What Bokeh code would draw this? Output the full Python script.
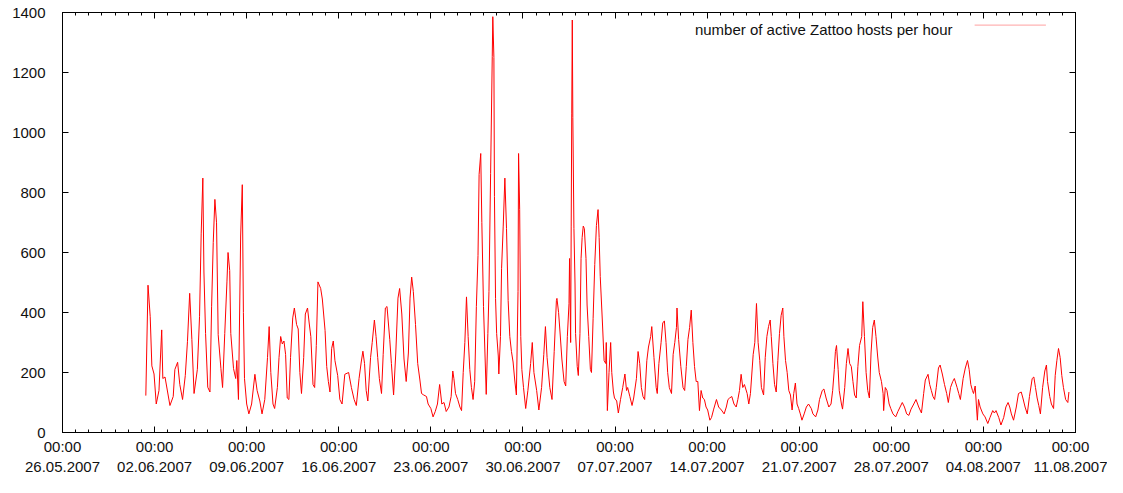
import pandas as pd
from bokeh.plotting import figure
from bokeh.models import (FixedTicker, DatetimeTickFormatter, LinearAxis, DatetimeAxis,
                          Range1d, Label, CustomJSTickFormatter, PolyAnnotation,
                          ColumnDataSource)
from bokeh.embed import file_html
from bokeh.resources import INLINE

START = "2007-05-26 00:00"
END = "2007-08-11 00:00"
series_label = "number of active Zattoo hosts per hour"
y_ticks = [0, 200, 400, 600, 800, 1000, 1200, 1400]

# hours since 26.05.2007 00:00
hours = [
    152, 156, 160, 163, 167, 171, 176, 181, 183, 187, 196, 202, 205, 210, 214, 219, 224, 228, 232, 236,
    240, 246, 250, 253, 256, 258, 261, 265, 269, 272, 275, 278, 281, 284, 289, 292, 296, 300, 302, 305,
    307, 312, 316, 318, 321, 325, 328, 330, 332,
    336, 340, 345, 351, 355, 360, 364, 369, 374, 377, 380, 384, 387, 392, 395, 398, 401, 404, 407, 410,
    413, 416, 420, 423, 427, 430, 433, 436, 440, 443, 447, 450, 453, 457, 460, 463, 466, 471, 474, 479,
    482, 485, 488, 491, 494, 497, 502, 506, 510, 515, 522,
    527, 532, 536, 541, 545, 548, 551, 554, 557, 562, 565, 569, 572, 575, 578, 582, 585, 589, 592, 597,
    600, 604, 608, 612, 615, 619, 623, 627, 631, 634, 637, 640, 644, 648, 652, 655, 659, 664, 667, 672,
    676, 680, 684, 688, 692, 696, 700, 705, 709, 712,
    714, 717, 721, 725, 728, 731, 734, 737, 740, 743, 746, 749, 752, 755, 758, 760, 763, 765, 768, 771,
    773, 776, 778, 781, 784, 785, 787, 788, 790, 792, 795, 796, 799, 801, 804, 807, 810, 813, 816, 819,
    822, 825, 828, 831, 832, 834, 836, 838, 841, 845, 849, 854, 857, 860, 865, 869, 874, 878, 881, 884,
    889, 893, 897, 901,
    902, 905, 908, 911, 915, 918, 921, 924, 925, 927, 928, 929, 930, 931, 933, 935, 936, 939, 941, 944,
    946, 948, 950, 952, 955, 957, 960, 963, 965, 968, 971, 974, 977, 979, 981, 985, 988, 991, 992, 994,
    997, 1000, 1002, 1005, 1007, 1011, 1014, 1018, 1022, 1026, 1029, 1031, 1035, 1039, 1042, 1047, 1050,
    1053, 1056, 1059, 1062, 1066, 1069, 1073, 1075, 1079, 1083, 1085, 1088, 1092,
    1095, 1098, 1101, 1104, 1107, 1111, 1114, 1117, 1120, 1121, 1124, 1128, 1132, 1135, 1138, 1141, 1144,
    1147, 1150, 1153, 1156, 1159, 1162, 1165, 1168, 1171, 1174, 1177, 1181, 1184, 1188, 1193, 1197, 1202,
    1207, 1211, 1214, 1217, 1221, 1225, 1229, 1232, 1235, 1238, 1241, 1244, 1249, 1252, 1255, 1260, 1263,
    1266, 1269, 1272, 1275, 1279, 1282,
    1285, 1288, 1291, 1293, 1296, 1299, 1302, 1305, 1308, 1311, 1314, 1316, 1319, 1322, 1325, 1328, 1331,
    1334, 1337, 1340, 1343, 1346, 1349, 1353, 1357, 1361, 1366, 1369, 1374, 1378, 1381, 1386, 1389, 1393,
    1398, 1402, 1405, 1408, 1410, 1412, 1415, 1417, 1421, 1423, 1427, 1430, 1433, 1436, 1439, 1442, 1445,
    1448, 1451, 1454, 1458, 1460, 1463, 1466, 1469, 1472,
    1475, 1478, 1481, 1484, 1487, 1490, 1494, 1497, 1498, 1501, 1504, 1508, 1511, 1515, 1520, 1524, 1528,
    1532, 1536, 1540, 1544, 1548, 1553, 1557, 1562, 1567, 1571, 1574, 1579, 1582, 1585, 1588, 1591, 1594,
    1598, 1601, 1605, 1609, 1613, 1616, 1620, 1624, 1627, 1632, 1635, 1638, 1643, 1647, 1651, 1654, 1657,
    1660, 1662,
    1665, 1667, 1669, 1671, 1674, 1679, 1683, 1688, 1692, 1697, 1700, 1703, 1708, 1712, 1717, 1721, 1725,
    1728, 1731, 1735, 1740, 1744, 1749, 1752, 1756, 1760, 1764, 1769, 1772, 1775, 1778, 1781, 1784, 1788,
    1792, 1795, 1797, 1801, 1804, 1808, 1811, 1814, 1817, 1820, 1823, 1826, 1830, 1834, 1836,
]

hosts = [
    123, 491, 386, 222, 195, 95, 140, 342, 180, 185, 90, 120, 210, 234, 160, 110, 190, 304, 464, 310,
    130, 210, 386, 662, 848, 535, 330, 151, 135, 419, 633, 777, 699, 326, 213, 150, 330, 502, 600, 540,
    330, 213, 180, 240, 110, 655, 826, 400, 180,
    95, 62, 95, 194, 140, 105, 62, 110, 250, 353, 200, 95, 80, 150, 250, 320, 295, 305, 260, 115,
    110, 250, 382, 415, 360, 345, 200, 130, 250, 395, 415, 365, 320, 160, 150, 290, 502, 480, 445, 340,
    220, 170, 135, 280, 305, 240, 190, 110, 95, 194, 200,
    150, 110, 90, 180, 235, 271, 230, 140, 105, 250, 300, 375, 320, 250, 180, 130, 260, 415, 420, 310,
    230, 125, 265, 448, 480, 395, 245, 170, 265, 448, 518, 470, 360, 230, 175, 130, 125, 120, 95, 80,
    52, 70, 95, 160, 95, 100, 70, 85, 120, 205,
    180, 130, 110, 85, 73, 200, 300, 452, 320, 210, 150, 110, 170, 420, 590, 860, 930, 700, 420, 245,
    127, 330, 470, 864, 1254, 1386, 1250, 787, 447, 330, 255, 195, 320, 546, 688, 848, 680, 440, 320, 270,
    235, 175, 125, 470, 930, 744, 320, 210, 150, 80, 140, 230, 300, 200, 140, 75, 150, 260, 353, 250,
    150, 110, 270, 440,
    447, 400, 325, 245, 170, 155, 320, 430, 580, 300, 688, 1062, 1375, 1050, 680, 495, 330, 220, 190, 330,
    580, 650, 688, 680, 580, 425, 320, 210, 200, 380, 560, 690, 743, 650, 520, 365, 240, 230, 300, 73,
    200, 300, 200, 135, 115, 105, 65, 110, 150, 195, 140, 150, 120, 90, 115, 180, 270,
    230, 150, 120, 110, 240, 285, 320, 353, 250, 150, 130, 230, 300,
    365, 372, 300, 200, 150, 130, 260, 300, 350, 415, 310, 220, 150, 140, 220, 310, 350,
    408, 300, 220, 170, 170, 73, 140, 115, 110, 85, 75, 41, 50, 78, 110, 85, 75,
    62, 85, 110, 115, 120, 95, 85, 110, 140, 194, 150, 160, 130, 95, 130, 260, 300,
    430, 300, 240, 150, 125, 250,
    320, 353, 375, 320, 230, 160, 135, 240, 330, 390, 415, 320, 240, 200, 140, 125, 75,
    130, 165, 95, 80, 62, 41, 62, 85, 95, 80, 62, 52, 75, 110, 140, 145, 115,
    85, 95, 140, 210, 270, 290, 210, 140, 95, 78, 150, 230, 280, 230, 220, 170, 125,
    115, 220, 290, 320, 436, 320, 200, 140, 115,
    265, 350, 375, 320, 255, 200, 170, 130, 73, 150, 140, 95, 80, 62, 52, 70, 85,
    100, 85, 62, 57, 78, 95, 110, 85, 65, 130, 175, 194, 160, 140, 120, 110, 150,
    215, 225, 195, 160, 130, 100, 150, 170, 180, 150, 130, 110, 180, 215, 240, 210, 160,
    140, 130,
    155, 95, 41, 110, 85, 62, 52, 30, 50, 73, 65, 73, 50, 25, 50, 85, 100,
    85, 62, 41, 85, 130, 135, 115, 85, 62, 120, 180, 185, 150, 115, 90, 62, 150,
    205, 225, 170, 120, 95, 80, 190, 240, 280, 250, 190, 150, 110, 100, 135,
]

FONT = "Liberation Sans"
FS = "15px"
RED = "#ff0000"

t0 = pd.Timestamp(START)
t1 = pd.Timestamp(END)
times = t0 + pd.to_timedelta(hours, unit="h")
src = ColumnDataSource(dict(t=times, n=hosts))
T0_MS = float((t0 - pd.Timestamp("1970-01-01")) // pd.Timedelta(milliseconds=1))
HOUR_MS = 3600e3


def to_ms(idx):
    return [float(v) for v in (idx - pd.Timestamp("1970-01-01")) // pd.Timedelta(milliseconds=1)]


week_ms = to_ms(pd.date_range(START, END, freq="7D"))
day_ms = to_ms(pd.date_range(START, END, freq="1D"))
x_ticker = FixedTicker(ticks=week_ms, minor_ticks=day_ms)
y_ticker = FixedTicker(ticks=y_ticks, minor_ticks=[])

p = figure(width=1107, height=477, x_axis_type="datetime", output_backend="svg",
           toolbar_location=None,
           x_range=Range1d(t0, t1), y_range=Range1d(0, 1400),
           min_border_left=62, min_border_right=32, min_border_top=12, min_border_bottom=40)
p.xgrid.visible = False
p.ygrid.visible = False
p.outline_line_color = "black"
p.outline_line_width = 1
p.background_fill_color = "white"
p.border_fill_color = "white"

r = p.line("t", "n", source=src, line_color=RED, line_width=1)

fmt_str = "%H:%M\n%d.%m.%Y"
xfmt = DatetimeTickFormatter(days=fmt_str, months=fmt_str, years=fmt_str, hours=fmt_str,
                             hourmin=fmt_str)


def style(ax):
    ax.axis_line_color = "black"
    ax.major_tick_line_color = "black"
    ax.minor_tick_line_color = "black"
    ax.major_tick_in = 6
    ax.major_tick_out = 0
    ax.minor_tick_in = 3
    ax.minor_tick_out = 0
    ax.major_label_text_font = FONT
    ax.major_label_text_font_size = FS
    ax.major_label_text_color = "#111111"


xa = p.xaxis[0]
xa.ticker = x_ticker
xa.formatter = xfmt
xa.major_label_standoff = 5
style(xa)

ya = p.yaxis[0]
ya.ticker = y_ticker
ya.major_label_standoff = 17
style(ya)

empty = CustomJSTickFormatter(code="return ''")
top = DatetimeAxis(ticker=x_ticker, formatter=empty, major_label_standoff=0)
style(top)
top.major_label_text_font_size = "0px"
p.add_layout(top, "above")
right = LinearAxis(ticker=y_ticker, formatter=empty, major_label_standoff=0)
style(right)
right.major_label_text_font_size = "0px"
p.add_layout(right, "right")

# key (gnuplot style): text on the left, red line sample on the right
p.add_layout(Label(x=T0_MS + 1623.7 * HOUR_MS, y=1343, text=series_label, text_align="right",
                   text_baseline="middle", text_font=FONT, text_font_size=FS,
                   text_color="#111111"))
p.add_layout(PolyAnnotation(xs=[T0_MS + 1664 * HOUR_MS, T0_MS + 1794 * HOUR_MS],
                            ys=[1358, 1358], line_color=RED, line_width=1.2,
                            fill_alpha=0))

open("out.html", "w").write(file_html(p, INLINE))
